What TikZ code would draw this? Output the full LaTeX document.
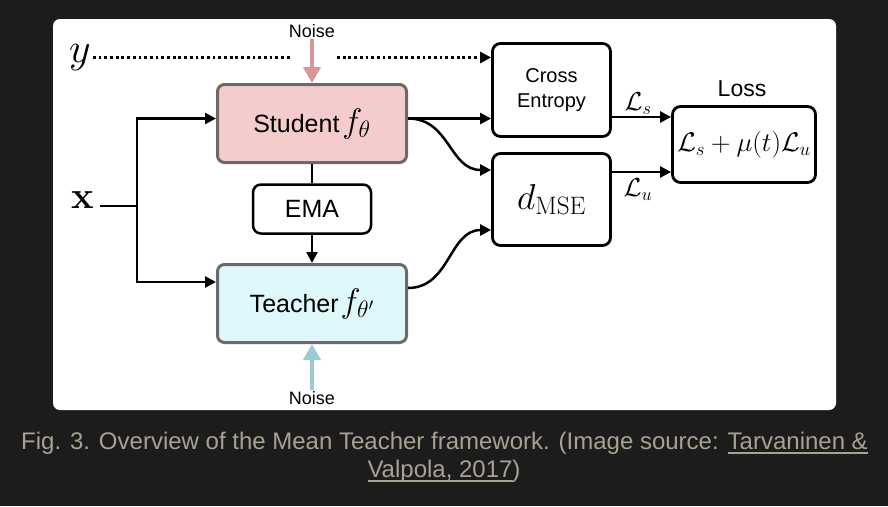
\RequirePackage{fix-cm}
\documentclass[tikz,border=0pt]{standalone}
\usepackage[no-math]{fontspec}
\setmainfont{Liberation Sans}
\usetikzlibrary{arrows.meta,calc}
\definecolor{bgdark}{HTML}{1C1C1C}
\definecolor{captxt}{HTML}{A9A191}
\definecolor{studentfill}{HTML}{F4CCCC}
\definecolor{teacherfill}{HTML}{DDF7FB}
\definecolor{netborder}{HTML}{6E6969}
\definecolor{noisepink}{HTML}{D99696}
\definecolor{noiseteal}{HTML}{9CCBD3}
\newcommand\capul[1]{\setbox0\hbox{#1}\rlap{\rule[-4.5pt]{\wd0}{1.6pt}}\box0}
\begin{document}
\begin{tikzpicture}[x=1pt,y=-1pt,
  box/.style={draw=black, line width=2.8pt, rounded corners=8pt, inner sep=0pt, align=center},
  net/.style={draw=netborder, line width=3pt, rounded corners=7pt, inner sep=0pt},
  conn/.style={line width=2.5pt, -{Triangle[length=11pt,width=11pt]}},
  plain/.style={line width=2.5pt},
  dotline/.style={line width=2.7pt, dash pattern=on 2.8pt off 2.9pt},
  noisearrow/.style={line width=4pt, -{Triangle[length=16pt,width=17pt]}},
  lbl/.style={inner sep=1pt}
]
\useasboundingbox (0,0) rectangle (888,506);
\fill[bgdark] (0,0) rectangle (888,506);
\fill[white, rounded corners=7pt] (53,19) rectangle (836,410);

% networks
\node[net, fill=studentfill, minimum width=189pt, minimum height=78pt] (student) at (312,123.5)
  {{\fontsize{25}{30}\selectfont Student} {\fontsize{34}{40}\selectfont$f_\theta$}};
\node[box, line width=2.5pt, minimum width=118pt, minimum height=49pt] (ema) at (312,209)
  {\fontsize{25}{30}\selectfont EMA};
\node[net, fill=teacherfill, minimum width=189pt, minimum height=78pt] (teacher) at (312,303.5)
  {{\fontsize{25}{30}\selectfont Teacher}\kern2pt{\fontsize{34}{40}\selectfont$f_{\theta'}$}};

% losses
\node[box, font=\fontsize{20}{25}\selectfont, minimum width=118pt, minimum height=93pt] (ce) at (551.5,90)
  {Cross\\Entropy};
\node[box, minimum width=118pt, minimum height=92pt] (mse) at (551.5,199.5)
  {\raisebox{-4pt}{\fontsize{36}{40}\selectfont$d_{\mathrm{MSE}}$}};
\node[box, minimum width=143pt, minimum height=76pt] (loss) at (744,144.5)
  {\fontsize{27}{32}\selectfont$\mathcal{L}_s+\mu(t)\mathcal{L}_u$};
\node[lbl] (losslbl) at (742,89) {\fontsize{23}{28}\selectfont Loss};

% inputs
\node[inner sep=2pt] (ylab) at (80,57.5) {\fontsize{42}{48}\selectfont$y$};
\node[inner sep=2pt] (xlab) at (82.5,200.5) {\fontsize{38}{44}\selectfont$\mathbf{x}$};
\coordinate (j) at (137,206);
\coordinate (g1) at (290,57.5);
\coordinate (g2) at (337,57.5);

% noise
\node[lbl] (noiseT) at (312,31) {\fontsize{18}{22}\selectfont Noise};
\node[lbl] (noiseB) at (312,398) {\fontsize{18}{22}\selectfont Noise};
\draw[noisearrow, noisepink] (noiseT.south) -- (student.north);
\draw[noisearrow, noiseteal] (noiseB.north) -- (teacher.south);

% connectors
\draw[dotline] (ylab.east) -- (g1);
\draw[dotline, -{Triangle[length=11pt,width=11pt]}] (g2) -- (g2 -| ce.west);
\draw[plain] (100,206) -- (j);
\draw[conn] (j) |- ([yshift=5pt]student.west);
\draw[conn] (j) |- ([yshift=21.5pt]teacher.west);
\draw[plain] (student.south) -- (ema.north);
\draw[conn] (ema.south) -- (teacher.north);
\draw[conn] ([yshift=5pt]student.east) -- ([yshift=5pt]student.east -| ce.west);
\draw[conn] ([yshift=5pt]student.east) .. controls +(42,0) and +(-42,0) .. ([yshift=29.5pt]mse.west);
\draw[conn] ([yshift=15.5pt]teacher.east) .. controls +(42,0) and +(-42,0) .. ([yshift=-30.5pt]mse.west);
\draw[conn] ([yshift=-27pt]ce.east) -- ([yshift=-27pt]ce.east -| loss.west);
\draw[conn] ([yshift=27.5pt]mse.east) -- ([yshift=27.5pt]mse.east -| loss.west);
\node[lbl] (ls) at (638,104) {\fontsize{26}{30}\selectfont$\mathcal{L}_s$};
\node[lbl] (lu) at (638,190) {\fontsize{26}{30}\selectfont$\mathcal{L}_u$};

% caption
\node[text=captxt, inner sep=0pt] (cap1) at (444.5,443)
  {\fontsize{24}{28}\selectfont Fig. 3. Overview of the Mean Teacher framework. (Image source: \capul{Tarvaninen \&}};
\node[text=captxt, inner sep=0pt] (cap2) at (444,471)
  {\fontsize{24}{28}\selectfont \capul{Valpola, 2017})};
\end{tikzpicture}
\end{document}
